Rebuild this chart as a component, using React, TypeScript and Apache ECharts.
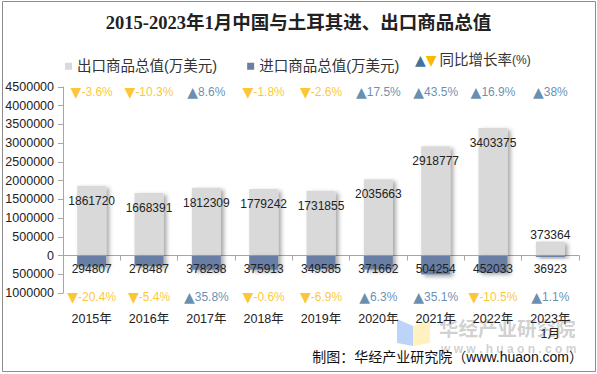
import React, { useEffect, useRef } from "react";
import * as echarts from "echarts";

const categories = ["2015年", "2016年", "2017年", "2018年", "2019年", "2020年", "2021年", "2022年", "2023年\n1月"];
const exportValues = [1861720, 1668391, 1812309, 1779242, 1731855, 2035663, 2918777, 3403375, 373364];
const importValues = [294807, 278487, 378238, 375913, 349585, 371662, 504254, 452033, 36923];
const exportGrowth = [-3.6, -10.3, 8.6, -1.8, -2.6, 17.5, 43.5, 16.9, 38];
const importGrowth = [-20.4, -5.4, 35.8, -0.6, -6.9, 6.3, 35.1, -10.5, 1.1];

const FONT = "'Liberation Sans', Arial, 'Noto Sans CJK SC', sans-serif";
const TRI_FONT = "'DejaVu Sans', sans-serif";
const UP = "#41729c";
const DOWN = "#fbb800";
const EXPORT_COLOR = "#d9d9d9";
const IMPORT_COLOR = "#687ea5";

function growthLabel(v: number): string {
  return v >= 0 ? `{upT|▲}{up|${v}%}` : `{downT|▼}{down|${v}%}`;
}

export default function App() {
  const ref = useRef<HTMLDivElement>(null);
  useEffect(() => {
    if (!ref.current) return;
    const chart = echarts.init(ref.current, undefined, { renderer: "svg" });
    const shadow = {
      shadowBlur: 4,
      shadowColor: "rgba(0,0,0,0.35)",
      shadowOffsetX: 3,
      shadowOffsetY: 2,
    };
    const growthRich = {
      up: { color: UP, fontSize: 12, fontFamily: FONT },
      down: { color: DOWN, fontSize: 12, fontFamily: FONT },
      upT: { color: UP, fontSize: 14, fontFamily: TRI_FONT },
      downT: { color: DOWN, fontSize: 14, fontFamily: TRI_FONT },
    };
    const option: any = {
      animation: false,
      textStyle: { fontFamily: FONT },
      title: {
        text: "2015-2023年1月中国与土耳其进、出口商品总值",
        left: "center",
        top: 9,
        textStyle: {
          fontSize: 18.5,
          fontWeight: "bold",
          color: "#222",
          fontFamily: "'Liberation Serif', 'Noto Sans CJK SC', serif",
        },
      },
      legend: {
        left: 60,
        top: 54,
        icon: "rect",
        itemWidth: 7,
        itemHeight: 7,
        itemGap: 30,
        textStyle: { fontSize: 14.5, color: "#333", fontFamily: FONT },
        data: ["出口商品总值(万美元)", "进口商品总值(万美元)"],
      },
      grid: { left: 63, right: 18, top: 87, bottom: 81, containLabel: false },
      xAxis: {
        type: "category",
        data: categories,
        axisLine: { onZero: true, lineStyle: { color: "#a6a6a6" } },
        axisTick: { show: true, alignWithLabel: false, lineStyle: { color: "#a6a6a6" } },
        axisLabel: { margin: 18, fontSize: 12.5, color: "#222", fontFamily: FONT, lineHeight: 15 },
      },
      yAxis: {
        type: "value",
        min: -1000000,
        max: 4500000,
        interval: 500000,
        splitLine: { show: false },
        axisLine: { show: true, lineStyle: { color: "#a6a6a6" } },
        axisTick: { show: true, lineStyle: { color: "#a6a6a6" } },
        axisLabel: {
          fontSize: 12.5,
          color: "#222",
          margin: 9,
          fontFamily: FONT,
          formatter: (v: number) => String(Math.abs(v)),
        },
      },
      series: [
        {
          name: "出口商品总值(万美元)",
          type: "bar",
          barWidth: 29,
          barGap: "-100%",
          itemStyle: { color: EXPORT_COLOR, ...shadow },
          label: {
            show: true,
            position: "insideTop",
            distance: 9,
            fontSize: 12,
            color: "#222",
            fontFamily: FONT,
          },
          data: exportValues.map((v, i) =>
            i === exportValues.length - 1
              ? { value: v, label: { position: "top", distance: 1 } }
              : v
          ),
          z: 2,
        },
        {
          name: "进口商品总值(万美元)",
          type: "bar",
          barWidth: 29,
          barGap: "-100%",
          itemStyle: { color: IMPORT_COLOR, ...shadow },
          label: {
            show: true,
            position: "insideTop",
            distance: 7,
            fontSize: 12,
            color: "#222",
            fontFamily: FONT,
            formatter: (p: any) => String(Math.abs(p.value)),
          },
          data: importValues.map((v) => -v),
          z: 3,
        },
        {
          name: "出口同比",
          type: "scatter",
          symbolSize: 0,
          silent: true,
          clip: false,
          label: {
            show: true,
            position: "inside",
            offset: [0, 5],
            formatter: (p: any) => growthLabel(exportGrowth[p.dataIndex]),
            rich: growthRich,
          },
          data: exportGrowth.map((_, i) => [i, 4500000]),
          z: 5,
        },
        {
          name: "进口同比",
          type: "scatter",
          symbolSize: 0,
          silent: true,
          clip: false,
          label: {
            show: true,
            position: "inside",
            offset: [0, 4],
            formatter: (p: any) => growthLabel(importGrowth[p.dataIndex]),
            rich: growthRich,
          },
          data: importGrowth.map((_, i) => [i, -1000000]),
          z: 5,
        },
      ],
      graphic: [
        {
          type: "rect",
          silent: true,
          shape: { x: 2.5, y: 1.5, width: 593, height: 370 },
          style: { fill: "none", stroke: "#8c8c8c", lineWidth: 1 },
          z: 0,
        },
        {
          type: "text",
          left: 415,
          top: 53,
          style: {
            text: "{up|▲}{down|▼}{t|同比增长率}{p|(%)}",
            rich: {
              up: { fill: UP, fontSize: 14, fontFamily: TRI_FONT },
              down: { fill: DOWN, fontSize: 14, fontFamily: TRI_FONT, padding: [0, 3, 0, 0] },
              t: { fill: "#333", fontSize: 14.5, fontFamily: FONT },
              p: { fill: "#333", fontSize: 12, fontFamily: FONT },
            },
          },
        },
        {
          type: "polygon",
          silent: true,
          z: 0,
          shape: { points: [[397, 319], [413, 326], [413, 346], [397, 343]] },
          style: { fill: "rgba(120,170,240,0.5)" },
        },
        {
          type: "polygon",
          silent: true,
          z: 0,
          shape: { points: [[413, 326], [430, 319], [430, 343], [413, 346]] },
          style: { fill: "rgba(255,228,130,0.5)" },
        },
        {
          type: "text",
          silent: true,
          z: 0,
          left: 439,
          top: 318,
          style: {
            text: "华经产业研究院",
            fill: "rgba(170,170,170,0.55)",
            fontSize: 19.5,
            fontWeight: "bold",
            fontFamily: "'Noto Sans CJK SC', sans-serif",
          },
        },
        {
          type: "text",
          silent: true,
          z: 0,
          left: 441,
          top: 343,
          style: {
            text: "w w w . h u a o n . c o m",
            fill: "rgba(170,170,170,0.55)",
            fontSize: 12,
            fontWeight: "bold",
            fontFamily: FONT,
          },
        },
        {
          type: "text",
          right: 14,
          top: 350,
          style: {
            text: "制图：华经产业研究院（www.huaon.com）",
            fill: "#111",
            fontSize: 14,
            fontFamily: FONT,
          },
        },
      ],
    };
    chart.setOption(option);
    return () => chart.dispose();
  }, []);
  return (
    <div
      ref={ref}
      style={{ position: "absolute", left: 0, top: 0, width: 597, height: 374, background: "#fff" }}
    />
  );
}
